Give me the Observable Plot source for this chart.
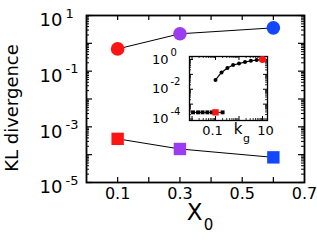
<!DOCTYPE html>
<html><head><meta charset="utf-8">
<script src="https://cdn.jsdelivr.net/npm/d3@7"></script>
<script src="https://cdn.jsdelivr.net/npm/@observablehq/plot@0.6"></script>
<style>
body{margin:0;background:#fff;}
#wrap{position:relative;width:317px;height:240px;font-family:"DejaVu Sans",sans-serif;}
#inset{position:absolute;left:145px;top:45px;}
#ylab{position:absolute;left:12px;top:108px;transform:translate(-50%,-50%) rotate(-90deg);white-space:nowrap;font-size:18px;line-height:18px;color:#000;}
</style></head><body><div id="wrap"><div id="main"></div><div id="inset"></div><div id="ylab"></div></div>
<script>
// main panel data
const x0 = [0.1, 0.3, 0.6];
const klCircle = [0.63, 2.2, 3.6];
const klSquare = [3.7e-4, 1.6e-4, 8.0e-5];
const markerColors = ["#ff1414", "#9b3cf0", "#1446ff"];
const xTickValues = [0.1, 0.2, 0.3, 0.4, 0.5, 0.6];
const xLabelValues = [0.1, 0.3, 0.5, 0.7];
const xLabelTexts = ["0.1", "0.3", "0.5", "0.7"];
const yDecades = [1e-5, 1e-4, 1e-3, 1e-2, 1e-1, 1, 10];
const yLabelValues = [10, 1e-1, 1e-3, 1e-5];
const yLabelExps = ["1", "-1", "-3", "-5"];
const yTitle = "KL divergence";
// inset data
const kgLow = [0.011, 0.018, 0.028, 0.045, 0.07, 0.1, 0.2];
const klLow = [2.8e-4, 2.8e-4, 2.8e-4, 2.8e-4, 2.8e-4, 2.8e-4, 2.8e-4];
const kgHigh = [0.1, 0.18, 0.32, 0.56, 1, 1.8, 3.2, 5.6, 10];
const klHigh = [0.042, 0.135, 0.27, 0.42, 0.54, 0.67, 0.82, 0.91, 1.0];
const insetXDecades = [0.01, 0.1, 1, 10];
const insetYDecades = [1e-4, 1e-3, 1e-2, 1e-1, 1];
const insetYLabelValues = [1, 1e-2, 1e-4];
const insetYLabelExps = ["0", "-2", "-4"];

const font = "DejaVu Sans";
const minorOf = (decs, maxV) => decs.flatMap(d => [2,3,4,5,6,7,8,9].map(k => d*k)).filter(v => v < maxV);

// ---------- main ----------
const W = 317, H = 240, mL = 86, mR = 13, mT = 15, mB = 58;
const fw = W - mL - mR, fh = H - mT - mB;
const circles = x0.map((x, i) => ({x, y: klCircle[i], c: markerColors[i]}));
const squares = x0.map((x, i) => ({x, y: klSquare[i], c: markerColors[i]}));
const yMinor = minorOf(yDecades.slice(0, -1), 10);
const yLabs = yLabelValues.map((v, i) => ({v, e: yLabelExps[i]}));
const xLabs = xLabelValues.map((v, i) => ({v, t: xLabelTexts[i]}));

const main = Plot.plot({
  width: W, height: H, marginLeft: mL, marginRight: mR, marginTop: mT, marginBottom: mB,
  style: {fontFamily: font, background: "white", overflow: "visible"},
  x: {domain: [0, 0.7], axis: null},
  y: {type: "log", domain: [1e-5, 10], axis: null},
  color: {type: "identity"},
  marks: [
    Plot.tickY(yDecades, {y: d => d, insetRight: fw - 6, stroke: "black", strokeWidth: 1.2}),
    Plot.tickY(yDecades, {y: d => d, insetLeft: fw - 6, stroke: "black", strokeWidth: 1.2}),
    Plot.tickY(yMinor, {y: d => d, insetRight: fw - 3, stroke: "black", strokeWidth: 1}),
    Plot.tickY(yMinor, {y: d => d, insetLeft: fw - 3, stroke: "black", strokeWidth: 1}),
    Plot.tickX(xTickValues, {x: d => d, insetTop: fh - 5, stroke: "black", strokeWidth: 1.2}),
    Plot.tickX(xTickValues, {x: d => d, insetBottom: fh - 5, stroke: "black", strokeWidth: 1.2}),
    Plot.frame({stroke: "black", strokeWidth: 1.8}),
    Plot.line(circles, {x: "x", y: "y", stroke: "black", strokeWidth: 1}),
    Plot.line(squares, {x: "x", y: "y", stroke: "black", strokeWidth: 1}),
    Plot.dot(circles, {x: "x", y: "y", r: 6.8, fill: "c", stroke: null}),
    Plot.dot(squares, {x: "x", y: "y", r: 7, symbol: "square", fill: "c", stroke: null}),
    Plot.text(yLabs, {y: "v", text: () => "10", frameAnchor: "left", textAnchor: "end", dx: -24, dy: 5, fontSize: 18, fill: "black"}),
    Plot.text(yLabs, {y: "v", text: "e", frameAnchor: "left", textAnchor: "start", dx: -21, dy: -2, fontSize: 13, fill: "black"}),
    Plot.text(xLabs, {x: "v", text: "t", frameAnchor: "bottom", dy: 16, fontSize: 16, fill: "black"}),
    Plot.text(["X"], {text: d => d, frameAnchor: "bottom", dx: -1, dy: 37, fontSize: 23, fill: "black"}),
    Plot.text(["0"], {text: d => d, frameAnchor: "bottom", dx: 13, dy: 47, fontSize: 15, fill: "black"})
  ]
});
document.getElementById("main").appendChild(main);
document.getElementById("ylab").textContent = yTitle;

// ---------- inset ----------
const iW = 130, iH = 110, iL = 44, iR = 8, iT = 11, iB = 35;
const ifw = iW - iL - iR, ifh = iH - iT - iB;
const low = kgLow.map((k, i) => ({k, v: klLow[i]}));
const high = kgHigh.map((k, i) => ({k, v: klHigh[i]}));
const ixMinor = minorOf(insetXDecades, 16);
const iyMinor = minorOf(insetYDecades.slice(0, -1), 1);
const iyLabs = insetYLabelValues.map((v, i) => ({v, e: insetYLabelExps[i]}));

const inset = Plot.plot({
  width: iW, height: iH, marginLeft: iL, marginRight: iR, marginTop: iT, marginBottom: iB,
  style: {fontFamily: font, background: "transparent", overflow: "visible"},
  x: {type: "log", domain: [0.0078, 16.3], axis: null},
  y: {type: "log", domain: [7.94e-5, 1.585], axis: null},
  marks: [
    Plot.frame({fill: "white", stroke: null}),
    Plot.tickY(insetYDecades, {y: d => d, insetRight: ifw - 4, stroke: "black"}),
    Plot.tickY(insetYDecades, {y: d => d, insetLeft: ifw - 4, stroke: "black"}),
    Plot.tickY(iyMinor, {y: d => d, insetRight: ifw - 2, stroke: "black", strokeWidth: 0.8}),
    Plot.tickY(iyMinor, {y: d => d, insetLeft: ifw - 2, stroke: "black", strokeWidth: 0.8}),
    Plot.tickX(insetXDecades, {x: d => d, insetTop: ifh - 4, stroke: "black"}),
    Plot.tickX(insetXDecades, {x: d => d, insetBottom: ifh - 4, stroke: "black"}),
    Plot.tickX(ixMinor, {x: d => d, insetTop: ifh - 2, stroke: "black", strokeWidth: 0.8}),
    Plot.tickX(ixMinor, {x: d => d, insetBottom: ifh - 2, stroke: "black", strokeWidth: 0.8}),
    Plot.frame({stroke: "black", strokeWidth: 1.3}),
    Plot.line(low, {x: "k", y: "v", stroke: "black", strokeWidth: 1}),
    Plot.line(high, {x: "k", y: "v", stroke: "black", strokeWidth: 1.2}),
    Plot.dot(low, {x: "k", y: "v", r: 2.2, symbol: "square", fill: "black", stroke: null}),
    Plot.dot(high, {x: "k", y: "v", r: 2, fill: "black", stroke: null}),
    Plot.dot(low.filter(d => d.k === 0.1), {x: "k", y: "v", r: 3.6, symbol: "square", fill: "#ff1414", stroke: null}),
    Plot.dot(high.filter(d => d.k === 10), {x: "k", y: "v", r: 3.6, fill: "#ff1414", stroke: null}),
    Plot.text(iyLabs, {y: "v", text: () => "10", frameAnchor: "left", textAnchor: "end", dx: -21, dy: 0, fontSize: 13, fill: "black"}),
    Plot.text(iyLabs, {y: "v", text: "e", frameAnchor: "left", textAnchor: "start", dx: -19, dy: -7, fontSize: 10, fill: "black"}),
    Plot.text([0.1], {x: d => d, text: () => "0.1", frameAnchor: "bottom", dx: -3, dy: 14, fontSize: 13, fill: "black"}),
    Plot.text([10], {x: d => d, text: () => "10", frameAnchor: "bottom", dx: 3, dy: 14, fontSize: 13, fill: "black"}),
    Plot.text(["k"], {text: d => d, frameAnchor: "bottom", dx: 9.5, dy: 13, fontSize: 15, fill: "black"}),
    Plot.text(["g"], {text: d => d, frameAnchor: "bottom", dx: 18, dy: 21, fontSize: 11, fill: "black"})
  ]
});
document.getElementById("inset").appendChild(inset);
</script></body></html>
